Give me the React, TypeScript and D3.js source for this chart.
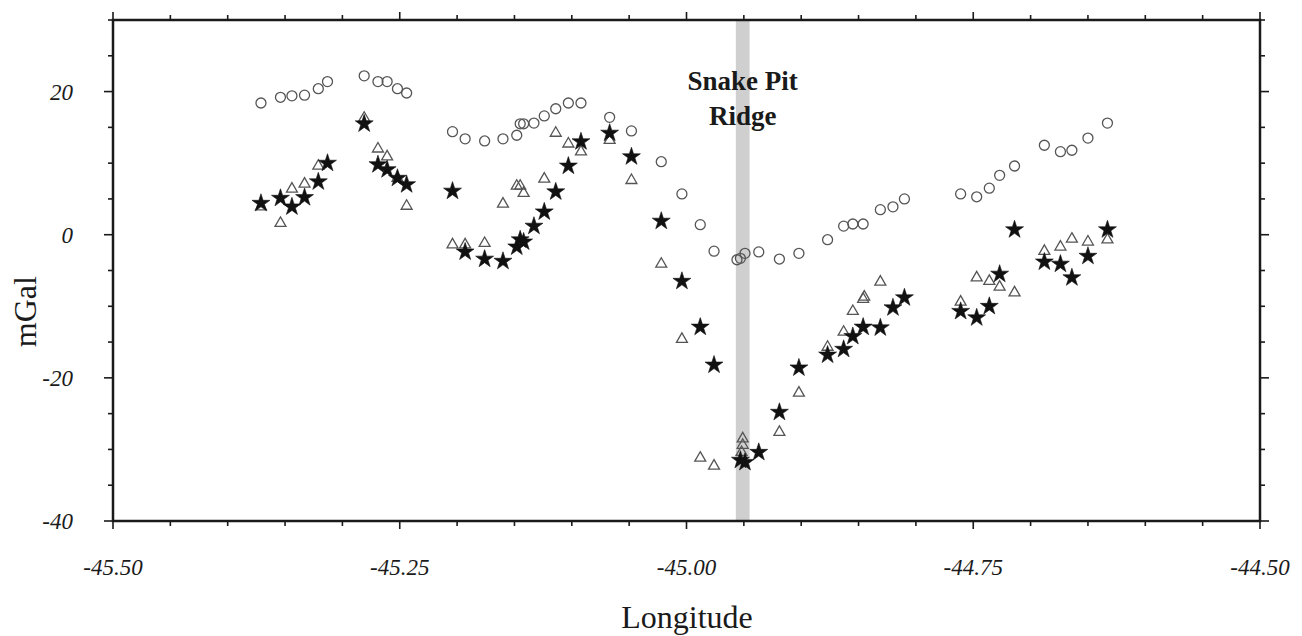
import React from 'react';
import * as d3 from 'd3';

const width = 1302;
const height = 636;
const margin = { top: 20, right: 42, bottom: 115, left: 113 };

// [longitude, mGal]
const circleData: [number, number][] = [
  [-45.371, 18.4], [-45.354, 19.2], [-45.344, 19.4], [-45.333, 19.5], [-45.321, 20.4],
  [-45.313, 21.4], [-45.281, 22.2], [-45.269, 21.4], [-45.261, 21.4], [-45.252, 20.4],
  [-45.244, 19.8], [-45.204, 14.4], [-45.193, 13.4], [-45.176, 13.1], [-45.16, 13.4],
  [-45.148, 13.9], [-45.145, 15.5], [-45.142, 15.5], [-45.133, 15.6], [-45.124, 16.6],
  [-45.114, 17.6], [-45.103, 18.4], [-45.092, 18.4], [-45.067, 16.4], [-45.048, 14.5],
  [-45.022, 10.2], [-45.004, 5.7], [-44.988, 1.4], [-44.976, -2.3], [-44.956, -3.5],
  [-44.953, -3.3], [-44.949, -2.6], [-44.937, -2.4], [-44.919, -3.4], [-44.902, -2.6],
  [-44.877, -0.7], [-44.863, 1.2], [-44.855, 1.5], [-44.846, 1.5], [-44.831, 3.5],
  [-44.82, 3.9], [-44.81, 5.0], [-44.761, 5.7], [-44.747, 5.3], [-44.736, 6.5],
  [-44.727, 8.3], [-44.714, 9.6], [-44.688, 12.5], [-44.674, 11.6], [-44.664, 11.8],
  [-44.65, 13.5], [-44.633, 15.6],
];

const triangleData: [number, number][] = [
  [-45.371, 3.9], [-45.354, 1.6], [-45.344, 6.4], [-45.333, 7.1], [-45.321, 9.6],
  [-45.281, 16.3], [-45.269, 12.0], [-45.261, 10.9], [-45.252, 7.9], [-45.244, 4.0],
  [-45.204, -1.4], [-45.193, -1.4], [-45.176, -1.2], [-45.16, 4.3], [-45.148, 6.8],
  [-45.145, 6.8], [-45.142, 5.8], [-45.124, 7.8], [-45.114, 14.2], [-45.103, 12.7],
  [-45.092, 11.6], [-45.067, 13.2], [-45.048, 7.6], [-45.022, -4.1], [-45.004, -14.6],
  [-44.988, -31.2], [-44.976, -32.3], [-44.951, -28.5], [-44.951, -29.4], [-44.952, -30.4],
  [-44.919, -27.6], [-44.902, -22.1], [-44.877, -15.7], [-44.863, -13.6], [-44.855, -10.7],
  [-44.846, -9.0], [-44.845, -8.7], [-44.831, -6.6], [-44.761, -9.4], [-44.747, -6.0],
  [-44.736, -6.5], [-44.727, -7.3], [-44.714, -8.1], [-44.688, -2.3], [-44.674, -1.7],
  [-44.664, -0.6], [-44.65, -1.0], [-44.633, -0.7],
];

const starData: [number, number][] = [
  [-45.371, 4.4], [-45.354, 5.1], [-45.344, 3.9], [-45.333, 5.2], [-45.321, 7.4],
  [-45.313, 10.0], [-45.281, 15.5], [-45.269, 9.8], [-45.261, 9.1], [-45.252, 7.9],
  [-45.244, 7.0], [-45.204, 6.1], [-45.193, -2.4], [-45.176, -3.4], [-45.16, -3.7],
  [-45.148, -1.7], [-45.145, -0.7], [-45.142, -1.0], [-45.133, 1.2], [-45.124, 3.2],
  [-45.114, 6.0], [-45.103, 9.6], [-45.092, 13.0], [-45.067, 14.2], [-45.048, 10.9],
  [-45.022, 1.9], [-45.004, -6.5], [-44.988, -12.9], [-44.976, -18.2], [-44.953, -31.5],
  [-44.949, -31.8], [-44.937, -30.4], [-44.919, -24.8], [-44.902, -18.6], [-44.877, -16.8],
  [-44.863, -16.0], [-44.855, -14.2], [-44.846, -12.9], [-44.831, -13.0], [-44.82, -10.2],
  [-44.81, -8.8], [-44.761, -10.7], [-44.747, -11.6], [-44.736, -10.0], [-44.727, -5.5],
  [-44.714, 0.7], [-44.688, -3.8], [-44.674, -4.1], [-44.664, -6.0], [-44.65, -3.0],
  [-44.633, 0.7],
];

const xTickLabels = [-45.5, -45.25, -45.0, -44.75, -44.5];
const yTickLabels = [20, 0, -20, -40];
const ridgeLon = [-44.957, -44.945];

const font = '"Liberation Serif", "Times New Roman", serif';
const ink = '#1a1a1a';

const App = () => {
  const x = d3.scaleLinear().domain([-45.5, -44.5]).range([margin.left, width - margin.right]);
  const y = d3.scaleLinear().domain([-40, 30]).range([height - margin.bottom, margin.top]);
  const [x0, x1] = x.range();
  const [y0, y1] = [y(30), y(-40)];

  const xMinor = d3.range(-45.5, -44.499, 0.05);
  const yMinor = d3.range(-40, 30.001, 5);

  const tri = d3.symbol(d3.symbolTriangle, 52)()!;
  const star = d3.symbol(d3.symbolStar, 100)()!;

  const isMajorX = (v: number) => Math.abs(v * 4 - Math.round(v * 4)) < 1e-6;
  const isMajorY = (v: number) => Math.abs(v % 20) < 1e-6;

  return (
    <svg width={width} height={height} style={{ position: 'absolute', left: 0, top: 0, background: '#fff' }}>
      {/* ridge band */}
      <rect x={x(ridgeLon[0])} y={y0} width={x(ridgeLon[1]) - x(ridgeLon[0])} height={y1 - y0} fill="#cfcfcf" />
      <text x={x(-44.951)} y={90} textAnchor="middle" fontFamily={font} fontWeight="bold" fontSize={27} fill={ink}>Snake Pit</text>
      <text x={x(-44.951)} y={125} textAnchor="middle" fontFamily={font} fontWeight="bold" fontSize={27} fill={ink}>Ridge</text>

      {/* circles */}
      {circleData.map(([lon, v], i) => (
        <circle key={'c' + i} cx={x(lon)} cy={y(v)} r={5} fill="none" stroke="#555" strokeWidth={1.3} />
      ))}
      {/* triangles */}
      {triangleData.map(([lon, v], i) => (
        <path key={'t' + i} d={tri} transform={`translate(${x(lon)},${y(v)})`} fill="none" stroke="#555" strokeWidth={1.3} />
      ))}
      {/* stars */}
      {starData.map(([lon, v], i) => (
        <path key={'s' + i} d={star} transform={`translate(${x(lon)},${y(v)})`} fill="#111" stroke="#111" strokeWidth={0.6} />
      ))}

      {/* frame */}
      <rect x={x0} y={y0} width={x1 - x0} height={y1 - y0} fill="none" stroke={ink} strokeWidth={2.5} />

      {/* x ticks bottom & top */}
      {xMinor.map((v, i) => {
        const len = isMajorX(v) ? 8 : 5;
        return (
          <g key={'xt' + i} stroke={ink} strokeWidth={1.6}>
            <line x1={x(v)} x2={x(v)} y1={y1} y2={y1 + len} />
            <line x1={x(v)} x2={x(v)} y1={y0} y2={y0 - len} />
          </g>
        );
      })}
      {/* y ticks left & right */}
      {yMinor.map((v, i) => {
        const len = isMajorY(v) ? 9 : 5;
        return (
          <g key={'yt' + i} stroke={ink} strokeWidth={1.6}>
            <line x1={x0} x2={x0 - len} y1={y(v)} y2={y(v)} />
            <line x1={x1} x2={x1 + len} y1={y(v)} y2={y(v)} />
          </g>
        );
      })}

      {xTickLabels.map((v) => (
        <text key={'xl' + v} x={x(v)} y={575} textAnchor="middle" fontFamily={font} fontStyle="italic" fontSize={23} fill={ink}>
          {v.toFixed(2)}
        </text>
      ))}
      {yTickLabels.map((v) => (
        <text key={'yl' + v} x={73} y={y(v) + 8} textAnchor="end" fontFamily={font} fontStyle="italic" fontSize={23} fill={ink}>
          {v}
        </text>
      ))}

      <text x={687} y={628} textAnchor="middle" fontFamily={font} fontSize={32} fill={ink}>Longitude</text>
      <text transform={`translate(36,${y(0) + 77}) rotate(-90)`} textAnchor="middle" fontFamily={font} fontSize={32} fill={ink}>mGal</text>
    </svg>
  );
};

export default App;
